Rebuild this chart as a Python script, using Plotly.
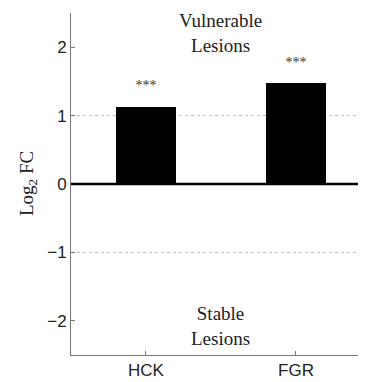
import plotly.graph_objects as go

categories = ["HCK", "FGR"]
log2_fc = [1.13, 1.47]
significance = ["***", "***"]
y_ticks = [-2, -1, 0, 1, 2]
y_tick_labels = ["\u22122", "\u22121", "0", "1", "2"]
star_offset = 0.29

fig = go.Figure()
fig.add_trace(go.Bar(
    x=categories, y=log2_fc, width=0.4,
    marker=dict(color="black", line=dict(width=0)),
    showlegend=False,
))
fig.add_trace(go.Scatter(
    x=categories, y=[v + star_offset for v in log2_fc],
    mode="text", text=significance,
    textfont=dict(family="Liberation Serif", size=14, color="#333"),
    showlegend=False,
))

# dotted reference lines at +/-1
for yv in (1, -1):
    fig.add_shape(type="line", xref="paper", x0=0, x1=1, yref="y", y0=yv, y1=yv,
                  line=dict(color="#bbbbbb", width=1, dash="dot"), layer="below")
# thick zero line
fig.add_shape(type="line", xref="paper", x0=0, x1=1, yref="y", y0=0, y1=0,
              line=dict(color="black", width=2.5), layer="above")

serif = dict(family="Liberation Serif", size=19, color="#222")
fig.add_annotation(x=0.5, y=2.21, xref="x", yref="y", text="Vulnerable<br>Lesions",
                   showarrow=False, font=serif, align="center")
fig.add_annotation(x=0.5, y=-2.07, xref="x", yref="y", text="Stable<br>Lesions",
                   showarrow=False, font=serif, align="center")
fig.add_annotation(x=-43 / 295, y=0.5, xref="paper", yref="paper", text="Log<sub>2</sub> FC",
                   showarrow=False, textangle=-90, xanchor="center", yanchor="middle",
                   font=dict(family="Liberation Serif", size=19, color="#222"))

# page body has an 8px default margin, so the figure is sized/offset to compensate
fig.update_layout(
    width=358, height=374,
    margin=dict(l=63, r=0, t=5, b=27),
    plot_bgcolor="white", paper_bgcolor="white",
    bargap=0,
    xaxis=dict(range=[-0.5, 1.467], showline=True, linecolor="#777", linewidth=1,
               ticks="inside", ticklen=4, tickcolor="#777", showgrid=False, zeroline=False,
               tickfont=dict(family="Liberation Sans", size=17, color="#222")),
    yaxis=dict(range=[-2.5, 2.5], showline=True, linecolor="#777", linewidth=1,
               tickvals=y_ticks, ticktext=y_tick_labels,
               ticks="inside", ticklen=4, tickcolor="#777", showgrid=False, zeroline=False,
               tickfont=dict(family="Liberation Sans", size=17, color="#222")),
)

fig.write_html("out.html")
